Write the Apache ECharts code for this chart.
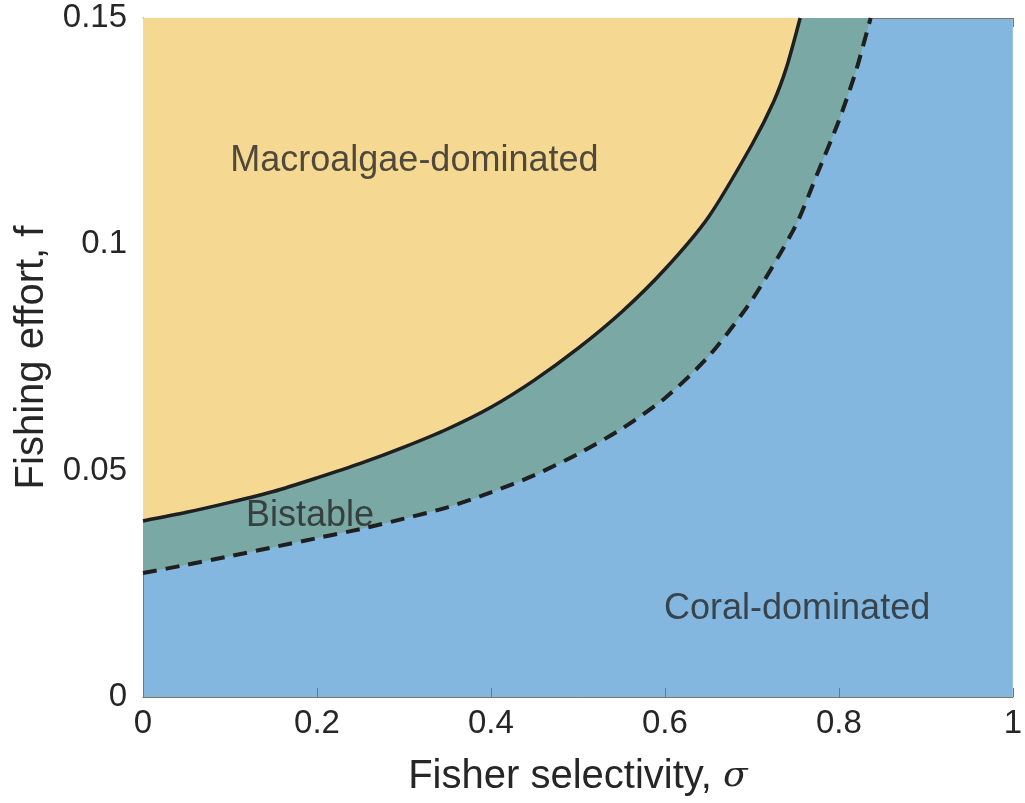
<!DOCTYPE html>
<html>
<head>
<meta charset="utf-8">
<script src="https://cdn.jsdelivr.net/npm/echarts@6/dist/echarts.min.js"></script>
<style>
  html, body { margin: 0; padding: 0; background: #fff; }
  #chart { width: 1025px; height: 803px; }
</style>
</head>
<body>
<div id="chart"></div>
<script>
// Upper boundary of the bistable region (solid line): [selectivity, effort]
const upperBoundary = [
  [0.00, 0.0389], [0.05, 0.0408], [0.10, 0.0430], [0.15, 0.0454],
  [0.20, 0.0484], [0.25, 0.0516], [0.30, 0.0552], [0.35, 0.0592],
  [0.40, 0.0640], [0.45, 0.0700], [0.50, 0.0770], [0.55, 0.0850],
  [0.60, 0.0945], [0.65, 0.1060], [0.70, 0.1220], [0.725, 0.1315],
  [0.74, 0.1392], [0.7555, 0.1500]
];
// Lower boundary of the bistable region (dashed line)
const lowerBoundary = [
  [0.00, 0.0274], [0.05, 0.0292], [0.10, 0.0311], [0.15, 0.0331],
  [0.20, 0.0351], [0.25, 0.0371], [0.30, 0.0394], [0.35, 0.0419],
  [0.40, 0.0452], [0.45, 0.0490], [0.50, 0.0537], [0.55, 0.0592],
  [0.60, 0.0660], [0.65, 0.0752], [0.70, 0.0877], [0.75, 0.1040],
  [0.775, 0.1155], [0.80, 0.1273], [0.82, 0.1385], [0.8365, 0.1500]
];
// Regime labels placed in data coordinates
const regionNames = ['Macroalgae-dominated', 'Bistable', 'Coral-dominated'];
const regionPositions = [[0.312, 0.1185], [0.192, 0.0400], [0.752, 0.0195]];

const textColor = '#262626';
const axisColor = '#7d7466';
const font = 'Liberation Sans, Arial, sans-serif';

const chart = echarts.init(document.getElementById('chart'), null, { renderer: 'canvas' });

const tickLabel = v => (v === 0 ? '0' : String(+v.toFixed(2)));

chart.setOption({
  animation: false,
  backgroundColor: '#ffffff',
  grid: {
    left: 143, right: 9, top: 18, bottom: 106,
    show: true, backgroundColor: '#84B7DF', borderWidth: 0
  },
  xAxis: [{
    type: 'value', min: 0, max: 1, interval: 0.2,
    name: '{n|Fisher selectivity, }{s|σ}',
    nameLocation: 'middle', nameGap: 60,
    nameTextStyle: {
      rich: {
        n: { fontFamily: font, fontSize: 40, color: textColor },
        s: { fontFamily: 'DejaVu Serif, serif', fontStyle: 'italic', fontSize: 36, color: textColor }
      }
    },
    axisLine: { show: true, lineStyle: { color: axisColor, width: 1 } },
    axisTick: { show: true, inside: true, length: 9, lineStyle: { color: axisColor } },
    axisLabel: { fontFamily: font, fontSize: 33, color: textColor, margin: 10, formatter: tickLabel },
    splitLine: { show: false }
  }, {
    type: 'value', min: 0, max: 1, interval: 0.2, position: 'top',
    axisLine: { show: true, lineStyle: { color: axisColor, width: 1 } },
    axisTick: { show: true, inside: true, length: 9, lineStyle: { color: axisColor } },
    axisLabel: { show: false },
    splitLine: { show: false }
  }],
  yAxis: {
    type: 'value', min: 0, max: 0.15, interval: 0.05,
    name: 'Fishing effort, f',
    nameLocation: 'middle', nameGap: 77,
    nameTextStyle: { fontFamily: font, fontSize: 40, color: textColor },
    axisLine: { show: true, lineStyle: { color: axisColor, width: 1 } },
    axisTick: { show: true, inside: true, length: 9, lineStyle: { color: axisColor } },
    axisLabel: { fontFamily: font, fontSize: 33, color: textColor, margin: 16, formatter: tickLabel },
    splitLine: { show: false }
  },
  series: [
    {
      // teal band: from the dashed boundary up to the top of the axis
      type: 'line', data: lowerBoundary, smooth: 0.25, symbol: 'none',
      lineStyle: { color: '#1f1f1f', width: 4, type: [14, 9] },
      areaStyle: { origin: 'end', color: '#7AA8A4', opacity: 1 },
      z: 2
    },
    {
      // yellow region above the solid boundary
      type: 'line', data: upperBoundary, smooth: 0.25, symbol: 'none',
      lineStyle: { color: '#1f1f1f', width: 3.5 },
      areaStyle: { origin: 'end', color: '#F5D891', opacity: 1 },
      z: 3
    },
    {
      type: 'scatter', symbolSize: 0, z: 5, silent: true,
      data: regionPositions.map((p, i) => ({ value: p, name: regionNames[i] })),
      label: {
        show: true, position: 'inside', formatter: p => p.name,
        fontFamily: font, fontSize: 36, color: textColor
      }
    }
  ]
});
</script>
</body>
</html>
